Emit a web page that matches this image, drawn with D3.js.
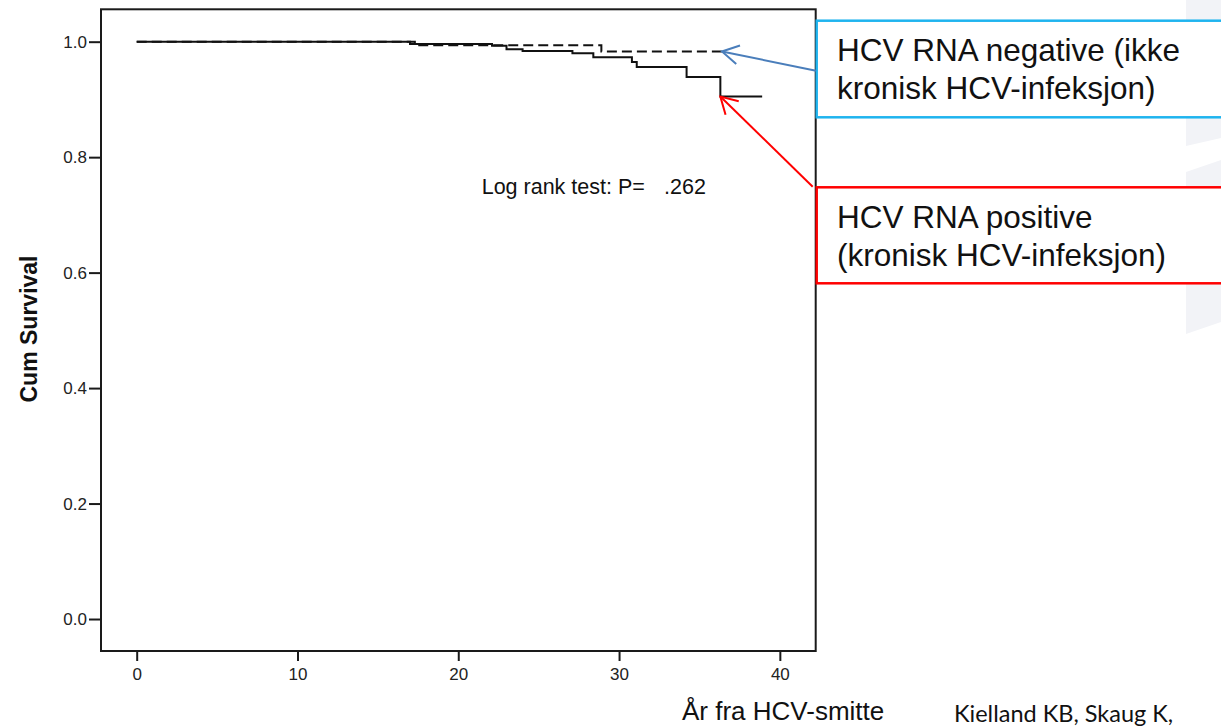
<!DOCTYPE html>
<html>
<head>
<meta charset="utf-8">
<script src="https://cdn.jsdelivr.net/npm/d3@7"></script>
<style>
    body { margin: 0; background: #fff; }
    svg { display: block; font-family: Arial, 'Liberation Sans', sans-serif; }
</style>
</head>
<body>
<script>
// Kaplan-Meier steps
const POS_TIME = [0, 17.0, 22.1, 23.0, 24.0, 27.1, 28.4, 30.8, 31.1, 34.2, 36.3, 38.9];
const POS_SURV = [1, 0.996, 0.993, 0.987, 0.984, 0.980, 0.973, 0.965, 0.956, 0.939, 0.905, 0.905];
const NEG_TIME = [0, 17.3, 28.9, 36.4];
const NEG_SURV = [1, 0.994, 0.983, 0.983];

const X_TICKS = [0, 10, 20, 30, 40];
const Y_TICKS = [0, 0.2, 0.4, 0.6, 0.8, 1.0];

const SVG_DIM = {W: 1221, H: 726};
const FRAME = {LEFT: 101, RIGHT: 815.7, TOP: 9.3, BOTTOM: 651};

const svg = d3.select('body').append('svg')
    .attr('width', SVG_DIM.W)
    .attr('height', SVG_DIM.H);

// faint watermark shapes on the right edge
svg.append('g').attr('fill', '#f2f3f7')
    .selectAll('polygon')
    .data([[[1186, 0], [1221, 0], [1221, 138], [1186, 146]],
           [[1186, 172], [1221, 160], [1221, 322], [1186, 334]]])
    .enter().append('polygon')
    .attr('points', d => d.join(' '));

const x = d3.scaleLinear()
    .domain([-2.22, 42.23])
    .range([FRAME.LEFT, FRAME.RIGHT]);

const y = d3.scaleLinear()
    .domain([-0.0554, 1.0561])
    .range([FRAME.BOTTOM, FRAME.TOP]);

// axes
const xAxis = d3.axisBottom(x)
    .tickValues(X_TICKS)
    .tickFormat(d3.format('d'))
    .tickSize(10)
    .tickSizeOuter(0)
    .tickPadding(7);

const yAxis = d3.axisLeft(y)
    .tickValues(Y_TICKS)
    .tickFormat(d3.format('.1f'))
    .tickSize(12)
    .tickSizeOuter(0)
    .tickPadding(2);

const gx = svg.append('g')
    .attr('transform', 'translate(0,' + FRAME.BOTTOM + ')')
    .call(xAxis);

const gy = svg.append('g')
    .attr('transform', 'translate(' + FRAME.LEFT + ',0)')
    .call(yAxis);

[gx, gy].forEach(g => {
    g.select('.domain').remove();
    g.selectAll('line').attr('stroke', '#1a1a1a').attr('stroke-width', 2);
    g.selectAll('text')
        .attr('fill', '#222')
        .style('font-size', '17px')
        .style('font-family', 'Arial, "Liberation Sans", sans-serif');
});

svg.append('rect')
    .attr('x', FRAME.LEFT)
    .attr('y', FRAME.TOP)
    .attr('width', FRAME.RIGHT - FRAME.LEFT)
    .attr('height', FRAME.BOTTOM - FRAME.TOP)
    .attr('fill', 'none')
    .attr('stroke', '#1a1a1a')
    .attr('stroke-width', 2);

// curves
const step = d3.line()
    .x(d => x(d[0]))
    .y(d => y(d[1]))
    .curve(d3.curveStepAfter);

svg.append('path')
    .attr('d', step(NEG_TIME.map((t, i) => [t, NEG_SURV[i]])))
    .attr('fill', 'none')
    .attr('stroke', '#111')
    .attr('stroke-width', 2)
    .attr('stroke-dasharray', '10,5');

svg.append('path')
    .attr('d', step(POS_TIME.map((t, i) => [t, POS_SURV[i]])))
    .attr('fill', 'none')
    .attr('stroke', '#111')
    .attr('stroke-width', 2);

// y title
svg.append('text')
    .attr('transform', 'translate(37,329) rotate(-90)')
    .attr('text-anchor', 'middle')
    .style('font-size', '23px')
    .style('font-weight', 'bold')
    .attr('fill', '#111')
    .text('Cum Survival');

// log rank
const lr = svg.append('text')
    .attr('x', 481.7)
    .attr('y', 194)
    .style('font-size', '21.5px')
    .attr('fill', '#111');
lr.append('tspan').text('Log rank test: P=');
lr.append('tspan').attr('x', 664).text('.262');

// label boxes
const BOXES = [
    {top: 20.7, bottom: 117.3, color: '#1fb4ef', lines: ['HCV RNA negative (ikke', 'kronisk HCV-infeksjon)'], base: [60.7, 99.3]},
    {top: 187.3, bottom: 283.3, color: '#ff0000', lines: ['HCV RNA positive', '(kronisk HCV-infeksjon)'], base: [227.7, 265.7]}
];

BOXES.forEach(b => {
    svg.append('rect')
        .attr('x', 816.7)
        .attr('y', b.top)
        .attr('width', 420)
        .attr('height', b.bottom - b.top)
        .attr('fill', '#fff')
        .attr('stroke', b.color)
        .attr('stroke-width', 2.5);
    b.lines.forEach((l, i) => {
        svg.append('text')
            .attr('x', 837)
            .attr('y', b.base[i])
            .style('font-size', '31.5px')
            .attr('fill', '#111')
            .text(l);
    });
});

// arrows from boxes to the curves
const ARROWS = [
    {from: [816, 70.7], tip: [x(36.4), y(0.983)], color: '#4a7ebb'},
    {from: [812.7, 186.7], tip: [x(36.3), y(0.905)], color: '#ff0000'}
];

ARROWS.forEach(a => {
    const ang = Math.atan2(a.from[1] - a.tip[1], a.from[0] - a.tip[0]);
    const wing = s => [a.tip[0] + 19 * Math.cos(ang + s), a.tip[1] + 19 * Math.sin(ang + s)];
    svg.append('line')
        .attr('x1', a.from[0]).attr('y1', a.from[1])
        .attr('x2', a.tip[0]).attr('y2', a.tip[1])
        .attr('stroke', a.color)
        .attr('stroke-width', 2);
    svg.append('polyline')
        .attr('points', [wing(-0.52), a.tip, wing(0.52)].join(' '))
        .attr('fill', 'none')
        .attr('stroke', a.color)
        .attr('stroke-width', 2);
});

// bottom captions
svg.append('text')
    .attr('x', 682)
    .attr('y', 720)
    .style('font-size', '26px')
    .attr('fill', '#111')
    .text('År fra HCV-smitte');

svg.append('text')
    .attr('x', 954)
    .attr('y', 721.7)
    .style('font-size', '23.5px')
    .style('font-family', 'Lato, sans-serif')
    .attr('fill', '#111')
    .text('Kielland KB, Skaug K,');
</script>
</body>
</html>
